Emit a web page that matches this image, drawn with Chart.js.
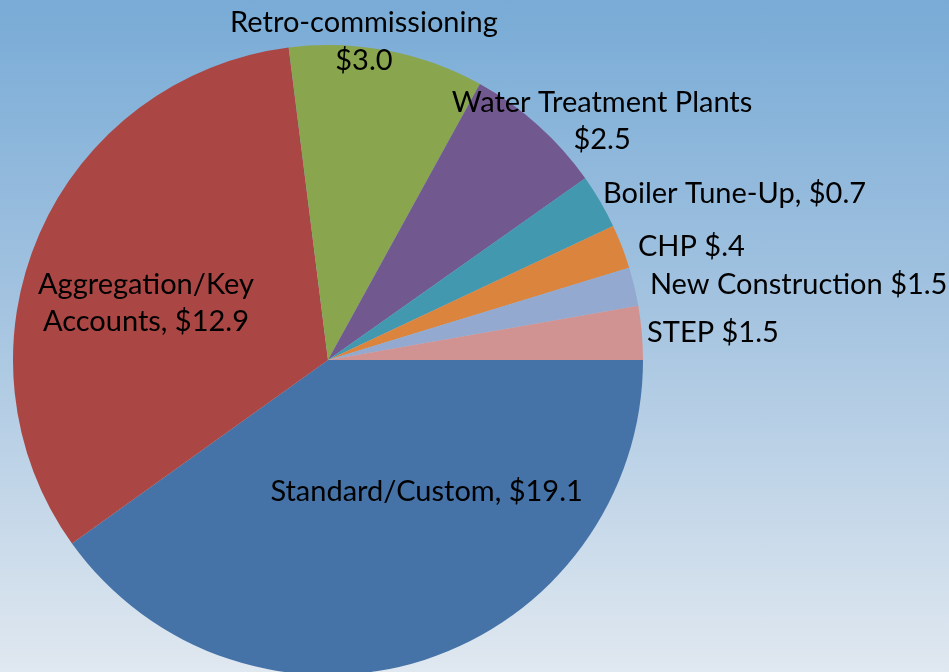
<!DOCTYPE html>
<html>
<head>
<meta charset="utf-8">
<script src="https://cdn.jsdelivr.net/npm/chart.js@4/dist/chart.umd.min.js"></script>
<style>
  html, body { margin: 0; padding: 0; overflow: hidden; }
  #wrap { position: relative; width: 949px; height: 672px;
          background: linear-gradient(to bottom, #78abd6 0%, #a3c3e0 45%, #e0e8f0 100%); }
</style>
</head>
<body>
<div id="wrap"><canvas id="c"></canvas></div>
<script>
// ---- data ----
const categories = ['Standard/Custom', 'Aggregation/Key Accounts', 'Retro-commissioning',
  'Water Treatment Plants', 'Boiler Tune-Up', 'CHP', 'New Construction', 'STEP'];
// slice sizes as drawn (percent of the circle)
const sliceShares = [40.1, 32.9, 10.0, 7.2, 2.8, 2.26, 1.97, 2.76];
// values printed in the labels ($ millions)
const labelValues = ['$19.1', '$12.9', '$3.0', '$2.5', '$0.7', '$.4', '$1.5', '$1.5'];
const labelLines = [
  ['Standard/Custom, $19.1'],
  ['Aggregation/Key', 'Accounts, $12.9'],
  ['Retro-commissioning', '$3.0'],
  ['Water Treatment Plants', '$2.5'],
  ['Boiler Tune-Up, $0.7'],
  ['CHP $.4'],
  ['New Construction $1.5'],
  ['STEP $1.5']
];

// ---- styles / layout ----
const sliceColors = ['#4572a7', '#aa4643', '#89a54e', '#71588f', '#4198af', '#db843d', '#93a9cf', '#d19392'];
// label anchor relative to pie centre, in units of the pie radius
const labelLayout = [
  { fx: 0.313, fy: 0.419, align: 'center' },
  { fx: -0.578, fy: -0.181, align: 'center' },
  { fx: 0.114, fy: -1.011, align: 'center' },
  { fx: 0.870, fy: -0.759, align: 'center' },
  { fx: 0.873, fy: -0.527, align: 'left' },
  { fx: 0.984, fy: -0.360, align: 'left' },
  { fx: 1.022, fy: -0.240, align: 'left' },
  { fx: 1.013, fy: -0.086, align: 'left' }
];
const labelFont = '29px Lato, "Open Sans", sans-serif';
const lineGap = 37.5;

const labelPlugin = {
  id: 'sliceLabels',
  afterDatasetsDraw(chart) {
    const arcs = chart.getDatasetMeta(0).data;
    const ctx = chart.ctx;
    ctx.save();
    ctx.font = labelFont;
    ctx.fillStyle = '#000';
    ctx.textBaseline = 'middle';
    arcs.forEach((arc, i) => {
      const L = labelLayout[i];
      const R = arc.outerRadius;
      const x = arc.x + L.fx * R;
      const y = arc.y + L.fy * R;
      const lines = labelLines[i];
      ctx.textAlign = L.align;
      const y0 = y - (lines.length - 1) * lineGap / 2;
      lines.forEach((t, k) => ctx.fillText(t, x, y0 + k * lineGap));
    });
    ctx.restore();
  }
};

new Chart(document.getElementById('c'), {
  type: 'pie',
  data: {
    labels: categories,
    datasets: [{
      data: sliceShares,
      backgroundColor: sliceColors,
      borderWidth: 0
    }]
  },
  options: {
    responsive: true,
    maintainAspectRatio: false,
    animation: false,
    rotation: 90,
    radius: 315,
    layout: { padding: { left: 13, right: 306, top: 48, bottom: 0 } },
    plugins: { legend: { display: false }, tooltip: { enabled: false } }
  },
  plugins: [labelPlugin]
});
</script>
</body>
</html>
